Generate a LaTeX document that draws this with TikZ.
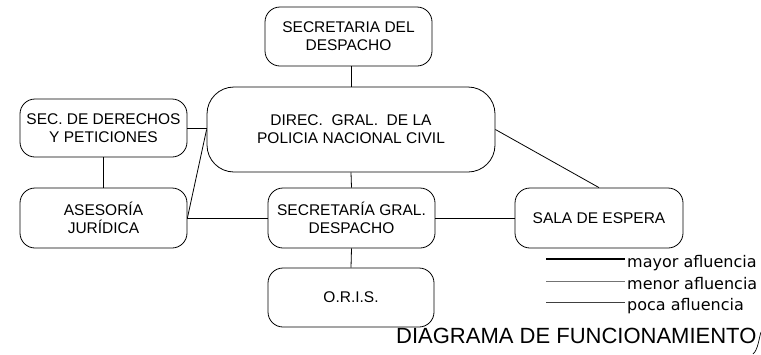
\documentclass[tikz,border=0pt]{standalone}
\usepackage{fontspec}
\setmainfont{Liberation Sans}
\newfontfamily\legfont{DejaVu Sans}
\begin{document}
\begin{tikzpicture}[x=1pt,y=-1pt,
  box/.style={draw,line width=0.8pt,rounded corners=15pt,inner sep=0pt,align=center,
    font=\fontsize{15.5}{18}\selectfont},
  conn/.style={line width=0.8pt},
  legtext/.style={anchor=base west,inner sep=0pt,font=\legfont\fontsize{16}{18}\selectfont}]
\useasboundingbox (0,0) rectangle (761,354);
\node[box,minimum width=167pt,minimum height=59pt] (sd) at (348.5,36.5) {SECRETARIA DEL\\DESPACHO};
\node[box,rounded corners=27pt,minimum width=288pt,minimum height=85pt] (dg) at (351,129.5) {DIREC.\ \ GRAL.\ \ DE LA\\POLICIA NACIONAL CIVIL};
\node[box,minimum width=167pt,minimum height=58pt] (sdp) at (103.5,128) {SEC. DE DERECHOS\\Y PETICIONES};
\node[box,minimum width=167pt,minimum height=60pt] (aj) at (103.5,218) {ASESORÍA\\JURÍDICA};
\node[box,minimum width=167pt,minimum height=60pt] (sg) at (351.5,218) {SECRETARÍA GRAL.\\DESPACHO};
\node[box,minimum width=166pt,minimum height=59pt] (oris) at (351,297.5) {O.R.I.S.};
\node[box,minimum width=168pt,minimum height=60pt] (se) at (599,218) {SALA DE ESPERA};
% connectors
\draw[conn] (dg.north |- sd.south) -- (dg.north);
\draw[conn] (sdp.east) -- (sdp.east -| dg.west);
\draw[conn] (sdp.south) -- (aj.north);
\draw[conn] (dg.west) -- (aj.east);
\draw[conn] (aj.east) -- (sg.west);
\draw[conn] (dg.south) -- (sg.north);
\draw[conn] (sg.south) -- (oris.north);
\draw[conn] (sg.east) -- (se.west);
\draw[conn] (dg.east) -- (se.north);
% legend
\coordinate (l1a) at (546,259); \coordinate (l1b) at (625,259);
\coordinate (l2a) at (546,281); \coordinate (l2b) at (625,281);
\coordinate (l3a) at (546,302); \coordinate (l3b) at (625,302);
\draw[line width=1.1pt] (l1a) -- (l1b);
\draw[line width=0.9pt,black!55] (l2a) -- (l2b);
\draw[line width=0.7pt,black!75] (l3a) -- (l3b);
\node[legtext] (t1) at (627,267) {mayor afluencia};
\node[legtext] (t2) at (627,289) {menor afluencia};
\node[legtext] (t3) at (627,310) {poca afluencia};
% title
\node[anchor=base west,inner sep=0pt,font=\fontsize{22}{24}\selectfont] (title) at (396,343) {DIAGRAMA DE FUNCIONAMIENTO};
\coordinate (c1) at (753,354); \coordinate (c2) at (761,332);
\draw[line width=0.7pt] (c1) .. controls (758,350) and (759,338) .. (c2);
\end{tikzpicture}
\end{document}
